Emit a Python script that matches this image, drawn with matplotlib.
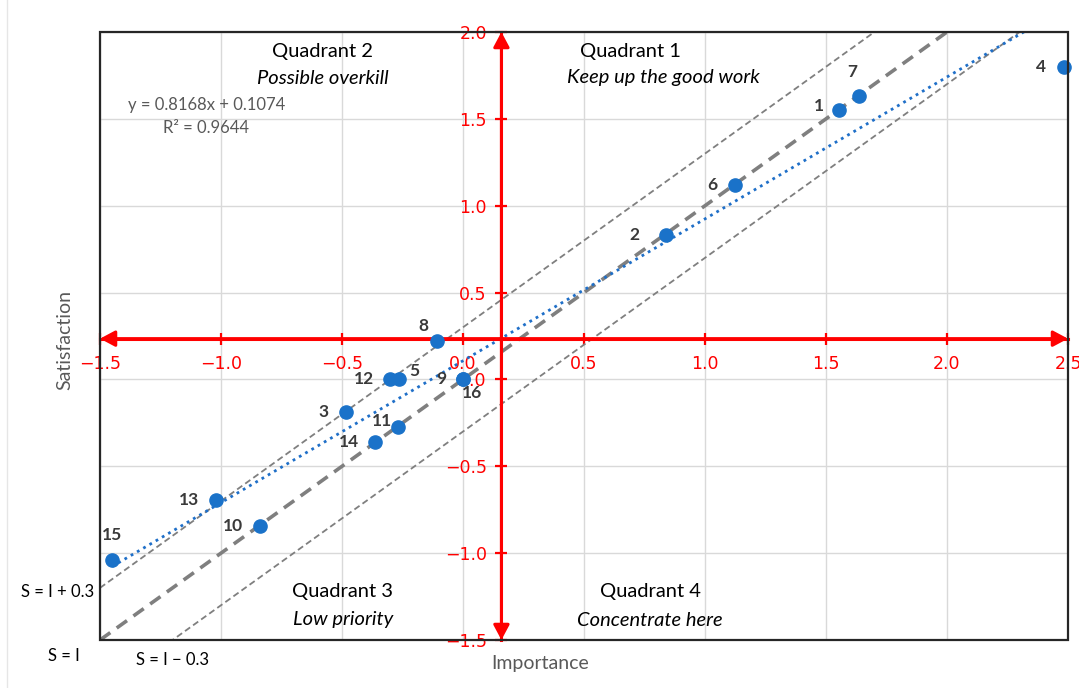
import numpy as np
import matplotlib
matplotlib.use('Agg')
import matplotlib.pyplot as plt
from matplotlib.patches import Rectangle

# attribute ids with importance / satisfaction scores
ids = [1, 2, 3, 4, 5, 6, 7, 8, 9, 10, 11, 12, 13, 14, 15, 16]
importance = [1.555, 0.838, -0.483, 2.485, -0.263, 1.124, 1.635, -0.109, 0.0,
              -0.838, -0.267, -0.302, -1.021, -0.364, -1.450, 0.0]
satisfaction = [1.552, 0.831, -0.187, 1.80, 0.0, 1.120, 1.630, 0.221, 0.0,
                -0.844, -0.272, 0.0, -0.694, -0.360, -1.040, 0.0]

# label offsets in pixels
label_offsets = {1: (-20, 4), 2: (-31, 0), 3: (-23, 0), 4: (-23, 0), 5: (15, 8),
                 6: (-23, 0), 7: (-6, 24), 8: (-13, 15), 9: (-22, 0), 10: (-27, 0),
                 11: (-16, 6), 12: (-26, 0), 13: (-27, 0), 14: (-26, 0), 15: (0, 25),
                 16: (9, -14)}

slope = 0.8168
intercept = 0.1074
r2 = 0.9644
band = 0.3

xticks = [-1.5, -1.0, -0.5, 0.0, 0.5, 1.0, 1.5, 2.0, 2.5]
yticks = [-1.5, -1.0, -0.5, 0.0, 0.5, 1.0, 1.5, 2.0]

FONT = 'Lato'
W, H = 1079, 688

fig = plt.figure(figsize=(W / 100, H / 100), dpi=100)
ax = fig.add_axes([100 / W, 1 - 640 / H, 968 / W, 608 / H])
ax.set_xlim(-1.5, 2.5)
ax.set_ylim(-1.5, 2.0)

x_mean = np.mean(importance)
y_mean = np.mean(satisfaction)

# reference lines
xx = np.array([-1.5, 2.5])
ax.plot(xx, xx, color='#7f7f7f', lw=2.6, dashes=(3.5, 2.2), zorder=2)
ax.plot(xx, xx + band, color='#7f7f7f', lw=1.3, dashes=(3.5, 2.0), zorder=2)
ax.plot(xx, xx - band, color='#7f7f7f', lw=1.3, dashes=(3.5, 2.0), zorder=2)

# trend line
tx = np.array([min(importance), max(importance)])
ax.plot(tx, slope * tx + intercept, color='#1f6fc8', lw=2.0, ls=(0, (1, 1.6)), zorder=2)

# points
ax.plot(importance, satisfaction, 'o', color='#1a72c9', ms=9.5, zorder=4, clip_on=False)
for i, xv, yv in zip(ids, importance, satisfaction):
    dx, dy = label_offsets[i]
    ax.annotate(str(i), (xv, yv), xytext=(dx, dy), textcoords='offset pixels',
                ha='center', va='center', fontsize=12.5, fontweight='bold',
                color='#3a3a3a', family=FONT, zorder=5)

# red crossing axes at the means
for s in ['top', 'right']:
    ax.spines[s].set_visible(False)
ax.spines['left'].set_position(('data', x_mean))
ax.spines['bottom'].set_position(('data', y_mean))
for s in ['left', 'bottom']:
    ax.spines[s].set_color('red')
    ax.spines[s].set_linewidth(2.2)
    ax.spines[s].set_zorder(3)
ax.set_xticks(xticks)
ax.set_yticks(yticks)
ax.tick_params(axis='both', direction='inout', length=9, width=1.6, color='red',
               labelcolor='red', labelsize=12.5)
ax.tick_params(axis='x', pad=7)
ax.tick_params(axis='y', pad=6)
ax.grid(True, color='#d9d9d9', lw=1)
ax.set_axisbelow(True)

arrow = dict(arrowstyle='<|-|>,head_length=0.6,head_width=0.32', color='red', lw=2.2,
             shrinkA=0, shrinkB=0, mutation_scale=15)
ax.annotate('', xy=(2.5, y_mean), xytext=(-1.5, y_mean), arrowprops=arrow,
            annotation_clip=False, zorder=3)
ax.annotate('', xy=(x_mean, 2.0), xytext=(x_mean, -1.5), arrowprops=arrow,
            annotation_clip=False, zorder=3)

# black frame of the plot area
ax.add_patch(Rectangle((0, 0), 1, 1, transform=ax.transAxes, fill=False,
                       edgecolor='#262626', lw=1.6, clip_on=False, zorder=6))

def ftext(px, py, s, **kw):
    fig.text(px / W, 1 - py / H, s, ha='center', va='center', family=FONT, **kw)

# quadrant captions
ftext(322, 51, 'Quadrant 2', fontsize=14.5, color='black')
ftext(323, 78, 'Possible overkill', fontsize=14.5, style='italic', color='black')
ftext(630, 51, 'Quadrant 1', fontsize=14.5, color='black')
ftext(663, 78, 'Keep up the good work', fontsize=14.5, style='italic', color='black')
ftext(343, 592, 'Quadrant 3', fontsize=14.5, color='black')
ftext(343, 619, 'Low priority', fontsize=14.5, style='italic', color='black')
ftext(650, 592, 'Quadrant 4', fontsize=14.5, color='black')
ftext(650, 621, 'Concentrate here', fontsize=14.5, style='italic', color='black')

# regression text
ftext(207, 105, 'y = %.4fx + %.4f' % (slope, intercept), fontsize=12, color='#595959')
ftext(206, 128, 'R² = %.4f' % r2, fontsize=12, color='#595959')

# line names
ftext(58, 592, 'S = I + 0.3', fontsize=12, color='black')
ftext(64, 656, 'S = I', fontsize=12, color='black')
ftext(173, 660, 'S = I − 0.3', fontsize=12, color='black')

# axis titles
ftext(65, 340, 'Satisfaction', fontsize=14, color='#595959', rotation=90)
ftext(540, 663, 'Importance', fontsize=14, color='#595959')

fig.add_artist(plt.Line2D([7 / W, 7 / W], [0, 1], transform=fig.transFigure,
                          color='#e6e6e6', lw=1))

fig.savefig('out.png', dpi=100)
